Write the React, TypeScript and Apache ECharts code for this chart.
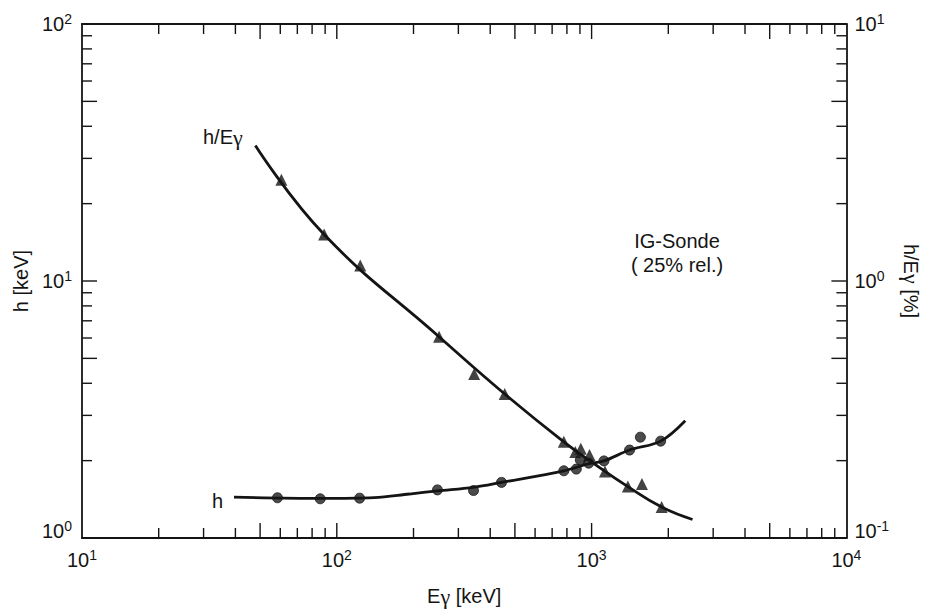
import React, { useEffect, useRef } from 'react';
import * as echarts from 'echarts';

// Measured points: h [keV] (circles, left axis)
const hEnergies = [58.5, 86.1, 122.9, 248.3, 344, 443, 778, 871, 903, 974, 1118, 1409, 1554, 1866];
const hValues = [1.434, 1.421, 1.429, 1.539, 1.53, 1.646, 1.826, 1.854, 2.013, 1.955, 1.995, 2.199, 2.468, 2.382];

// Measured points: h/Eγ [%] (triangles, right axis)
const relEnergies = [60.6, 89.2, 123.6, 251.9, 346, 456, 778, 863, 907, 981, 1128, 1388, 1576, 1883];
const relValues = [2.475, 1.516, 1.149, 0.607, 0.435, 0.3635, 0.2367, 0.2161, 0.2225, 0.2104, 0.1815, 0.1585, 0.1624, 0.1319];

// Fitted curves
const hFitEnergies = [39.5, 86.1, 140, 192.4, 248.3, 344, 443, 778, 974, 1118, 1409, 1866, 2331];
const hFitValues = [1.441, 1.425, 1.435, 1.483, 1.525, 1.575, 1.646, 1.826, 1.945, 1.995, 2.199, 2.382, 2.861];
const relFitEnergies = [47.9, 89.2, 251.9, 456, 778, 1016, 1388, 1883, 2489];
const relFitValues = [3.365, 1.516, 0.607, 0.3635, 0.2367, 0.1955, 0.1585, 0.1319, 0.118];

// Axis ranges and tick structure
const xRange = [10, 10000];
const yLeftRange = [1, 100];
const yRightRange = [0.1, 10];
const xDecades = [10, 100, 1000];
const yDecades = [1, 10];
const minorMultipliers = [2, 3, 4, 5, 6, 7, 8, 9];

const FONT = '"Liberation Sans", Arial, Helvetica, sans-serif';
const GREEK = '"Liberation Serif", "DejaVu Serif", serif';
const INK = '#141414';

export default function App() {
  const ref = useRef<HTMLDivElement>(null);
  useEffect(() => {
    if (!ref.current) return;
    const chart = echarts.init(ref.current, null, { renderer: 'svg' });

    const fmt = (v: number) => {
      const e = Math.round(Math.log10(v));
      return `{b|10}{s|${e}}`;
    };
    // y-axis labels: the lowest one is lifted (an extra blank line below it)
    const fmtY = (min: number) => (v: number) => {
      const e = Math.round(Math.log10(v));
      return Math.abs(v - min) < 1e-9 ? `{b|10}{s|${e}}\n{gap| }` : `{b|10}{s|${e}}`;
    };
    const rich: any = {
      b: { fontSize: 20, lineHeight: 24, fontFamily: FONT, color: INK },
      s: { fontSize: 14, verticalAlign: 'top', fontFamily: FONT, color: INK },
      gap: { fontSize: 8, lineHeight: 14, fontFamily: FONT, color: INK },
    };
    const nameRich: any = {
      a: { fontSize: 20, fontFamily: FONT, color: INK },
      g: { fontSize: 22, fontFamily: GREEK, color: INK },
    };

    const tickLen = (m: number) => (m === 5 || m === 10 ? 15 : 10);
    const xTicks: number[][] = [];
    xDecades.forEach((d, i) => {
      minorMultipliers.forEach((m) => xTicks.push([d * m, yLeftRange[0], tickLen(m)]));
      if (i > 0) xTicks.push([d, yLeftRange[0], 15]);
    });
    const yTicks: number[][] = [];
    yDecades.forEach((d, i) => {
      minorMultipliers.forEach((m) => yTicks.push([xRange[0], d * m, tickLen(m)]));
      if (i > 0) yTicks.push([xRange[0], d, 15]);
    });

    const axisLine = { show: true, lineStyle: { color: INK, width: 1.8 } };
    const nameStyle = { fontSize: 20, fontFamily: FONT, color: INK, rich: nameRich };

    chart.setOption({
      animation: false,
      backgroundColor: '#ffffff',
      grid: { left: 82, right: 71, top: 24, bottom: 68, containLabel: false },
      xAxis: [
        {
          type: 'log', logBase: 10, min: xRange[0], max: xRange[1], position: 'bottom',
          axisLine, axisTick: { show: false }, splitLine: { show: false },
          axisLabel: { formatter: fmt, rich, margin: 10 },
          name: '{a|E}{g|γ}{a| [keV]}', nameLocation: 'middle', nameGap: 47, nameTextStyle: nameStyle,
        },
        {
          type: 'log', logBase: 10, min: xRange[0], max: xRange[1], position: 'top',
          axisLine, axisTick: { show: false }, splitLine: { show: false }, axisLabel: { show: false },
        },
      ],
      yAxis: [
        {
          type: 'log', logBase: 10, min: yLeftRange[0], max: yLeftRange[1], position: 'left',
          axisLine, axisTick: { show: false }, splitLine: { show: false },
          axisLabel: { formatter: fmtY(yLeftRange[0]), rich, margin: 10 },
          name: 'h [keV]', nameLocation: 'middle', nameGap: 47, nameRotate: 90, nameTextStyle: nameStyle,
        },
        {
          type: 'log', logBase: 10, min: yRightRange[0], max: yRightRange[1], position: 'right',
          axisLine, axisTick: { show: false }, splitLine: { show: false },
          axisLabel: { formatter: fmtY(yRightRange[0]), rich, margin: 8 },
          name: '{a|h/E}{g|γ}{a| [%]}', nameLocation: 'middle', nameGap: 46, nameRotate: -90, nameTextStyle: nameStyle,
        },
      ],
      graphic: [
        {
          type: 'text', left: 203, top: 126,
          style: { text: '{a|h/E}{g|γ}', rich: nameRich, fontSize: 20, fontFamily: FONT, fill: INK },
        },
        { type: 'text', left: 212, top: 491, style: { text: 'h', fontSize: 20, fontFamily: FONT, fill: INK } },
        {
          type: 'text', x: 677, y: 241,
          style: { text: 'IG-Sonde', fontSize: 20, fontFamily: FONT, fill: INK, align: 'center', verticalAlign: 'middle' },
        },
        {
          type: 'text', x: 677, y: 265,
          style: { text: '( 25% rel.)', fontSize: 20, fontFamily: FONT, fill: INK, align: 'center', verticalAlign: 'middle' },
        },
      ],
      series: [
        {
          type: 'custom', coordinateSystem: 'cartesian2d', xAxisIndex: 0, yAxisIndex: 0,
          silent: true, clip: false, data: xTicks, encode: { x: 0, y: 1 },
          renderItem: (_p: any, api: any) => {
            const v = api.value(0);
            const len = api.value(2);
            const b = api.coord([v, yLeftRange[0]]);
            const t = api.coord([v, yLeftRange[1]]);
            const st = { stroke: INK, lineWidth: 1.4 };
            return {
              type: 'group',
              children: [
                { type: 'line', shape: { x1: b[0], y1: b[1], x2: b[0], y2: b[1] - len }, style: st },
                { type: 'line', shape: { x1: t[0], y1: t[1], x2: t[0], y2: t[1] + len }, style: st },
              ],
            };
          },
        },
        {
          type: 'custom', coordinateSystem: 'cartesian2d', xAxisIndex: 0, yAxisIndex: 0,
          silent: true, clip: false, data: yTicks, encode: { x: 0, y: 1 },
          renderItem: (_p: any, api: any) => {
            const v = api.value(1);
            const len = api.value(2);
            const l = api.coord([xRange[0], v]);
            const r = api.coord([xRange[1], v]);
            const st = { stroke: INK, lineWidth: 1.4 };
            return {
              type: 'group',
              children: [
                { type: 'line', shape: { x1: l[0], y1: l[1], x2: l[0] + len, y2: l[1] }, style: st },
                { type: 'line', shape: { x1: r[0], y1: r[1], x2: r[0] - len, y2: r[1] }, style: st },
              ],
            };
          },
        },
        {
          name: 'h fit', type: 'line', xAxisIndex: 0, yAxisIndex: 0, showSymbol: false,
          smooth: 0.35,
          lineStyle: { color: INK, width: 2.8 },
          data: hFitEnergies.map((e, i) => [e, hFitValues[i]]),
        },
        {
          name: 'h/Eγ fit', type: 'line', xAxisIndex: 0, yAxisIndex: 1, showSymbol: false,
          smooth: 0.45,
          lineStyle: { color: INK, width: 2.8 },
          data: relFitEnergies.map((e, i) => [e, relFitValues[i]]),
        },
        {
          name: 'h', type: 'scatter', xAxisIndex: 0, yAxisIndex: 0,
          symbol: 'circle', symbolSize: 10,
          itemStyle: { color: '#1e1e1e', borderColor: INK, borderWidth: 1 },
          data: hEnergies.map((e, i) => [e, hValues[i]]),
        },
        {
          name: 'h/Eγ', type: 'scatter', xAxisIndex: 0, yAxisIndex: 1,
          symbol: 'triangle', symbolSize: 12,
          itemStyle: { color: INK },
          data: relEnergies.map((e, i) => [e, relValues[i]]),
        },
      ],
    });
    return () => chart.dispose();
  }, []);
  return <div ref={ref} style={{ position: 'fixed', left: 0, top: 0, width: 930, height: 612 }} />;
}
